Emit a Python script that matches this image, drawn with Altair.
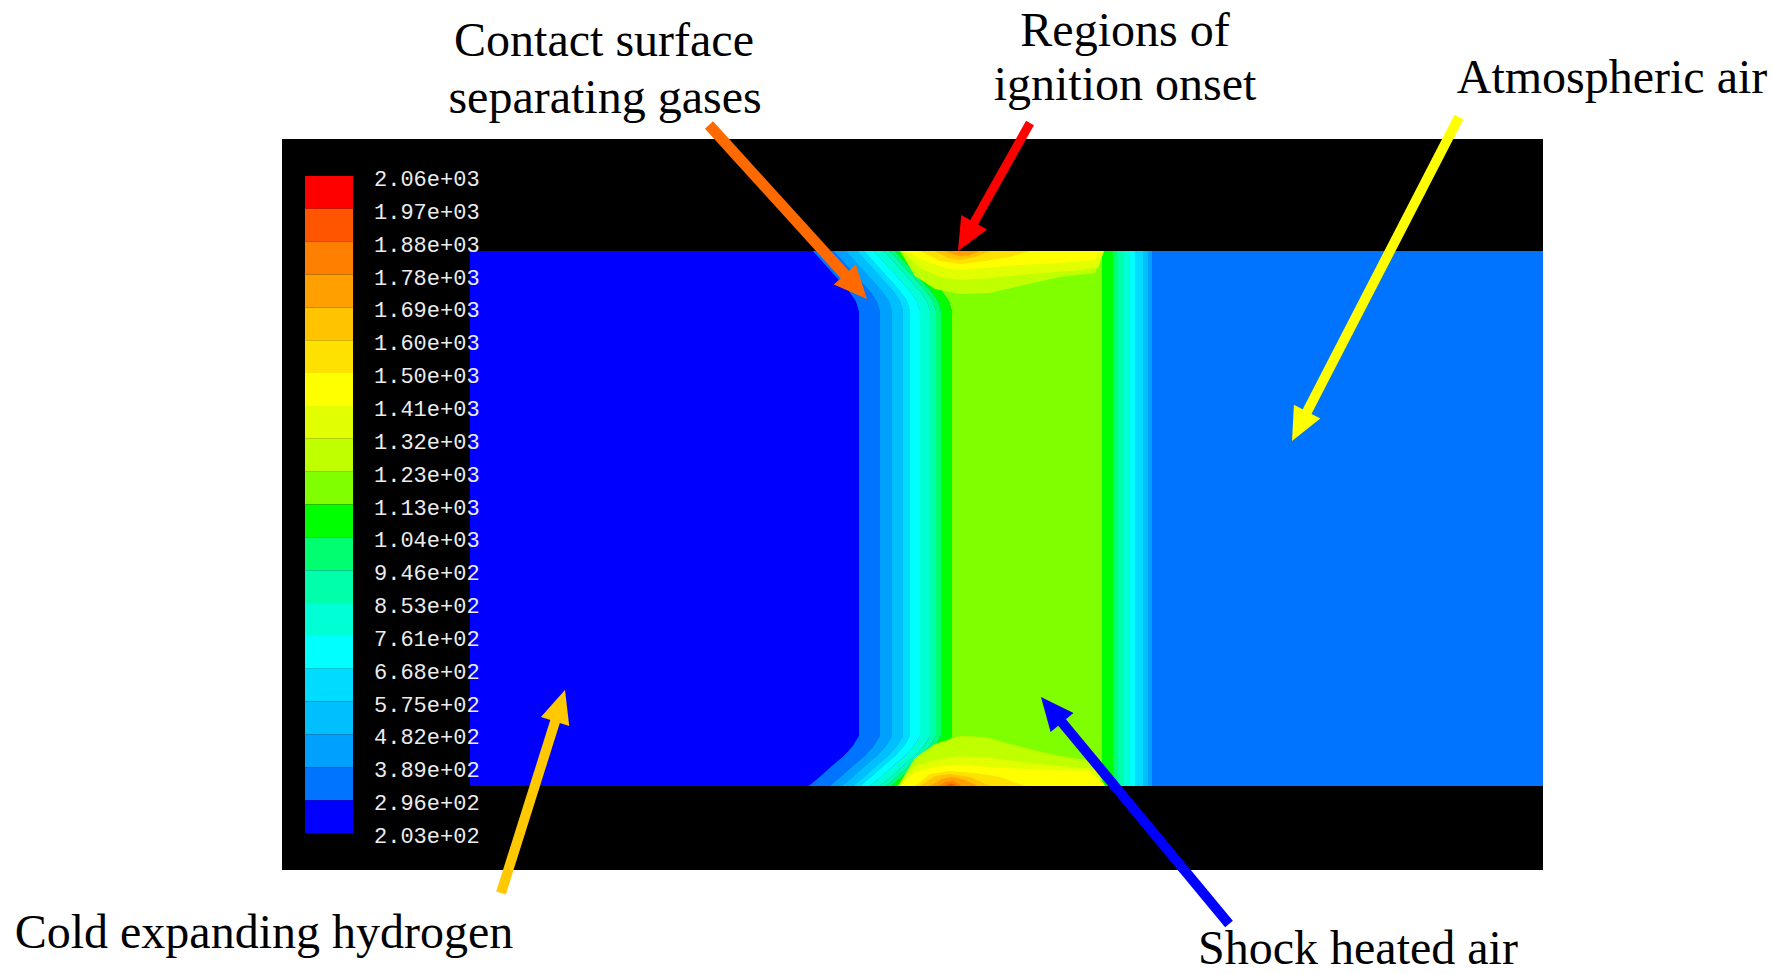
import math
import altair as alt
import pandas as pd

# ---------------- canvas (reference pixel space, page margin 8) ----------------
W, H = 1768, 958
OX, OY = 8, 8

FRAME_X = [282, 1543]
FRAME_Y = [139, 870]
CHANNEL_X = [470, 1543]
CHANNEL_Y = [251, 786]

BAND_COLORS = ["#ff0000", "#ff5500", "#ff8000", "#ffa000", "#ffc300",
               "#ffe100", "#ffff00", "#e1ff00", "#c0ff00", "#80ff00",
               "#00ff00", "#00ff70", "#00ffaa", "#00ffd5", "#00ffff",
               "#00dcff", "#00bfff", "#00a0ff", "#0073ff", "#0000ff"]

LEVEL_LABELS = ["2.06e+03", "1.97e+03", "1.88e+03", "1.78e+03", "1.69e+03",
                "1.60e+03", "1.50e+03", "1.41e+03", "1.32e+03", "1.23e+03",
                "1.13e+03", "1.04e+03", "9.46e+02", "8.53e+02", "7.61e+02",
                "6.68e+02", "5.75e+02", "4.82e+02", "3.89e+02", "2.96e+02",
                "2.03e+02"]

CB_X = [305, 353]
CB_Y = [176, 833]
CB_LABEL_X = 374

LEFT_BOUNDS = [859, 880, 892, 903, 910, 920, 930, 936, 941, 952]
LEFT_BANDS = [19, 18, 17, 16, 15, 14, 13, 12, 11, 10, 9]
BEND_Y = [251, 261, 271, 281, 291, 301, 311, 736, 746, 756, 766, 776, 786]
BEND_DX = [-46, -37, -28, -19, -10, -3, 0, 0, -6, -15, -27, -38, -50]
RIGHT_BOUNDS = [1102, 1113, 1118, 1124, 1130, 1135, 1143, 1148, 1152]
RIGHT_BANDS = [10, 11, 12, 13, 14, 15, 16, 17]
AIR_BAND = 18

TOP_DOMES = {
    8: ([900, 915, 935, 960, 990, 1020, 1060, 1095, 1104], [0, 25, 38, 43, 42, 35, 26, 22, 0]),
    7: ([902, 920, 940, 960, 990, 1030, 1070, 1098, 1104], [0, 17, 26, 29, 27, 23, 20, 17, 0]),
    6: ([905, 925, 945, 960, 985, 1020, 1060, 1095, 1103], [0, 10, 17, 19, 17, 14, 12, 9, 0]),
    5: ([920, 940, 960, 985, 1010, 1030], [0, 10, 13, 10, 6, 0]),
    4: ([935, 948, 960, 975, 990], [0, 7, 9, 6, 0]),
    3: ([945, 955, 962, 970, 980], [0, 4, 5, 4, 0]),
}
BOTTOM_DOMES = {
    8: ([898, 915, 935, 960, 985, 1010, 1050, 1090, 1105], [0, 28, 42, 50, 49, 42, 32, 25, 0]),
    7: ([898, 915, 935, 960, 990, 1020, 1060, 1095, 1105], [0, 20, 26, 30, 28, 24, 20, 17, 0]),
    6: ([900, 915, 940, 965, 1000, 1050, 1090, 1105], [0, 14, 20, 21, 18, 16, 15, 0]),
    5: ([915, 930, 950, 975, 1000, 1025], [0, 12, 15, 13, 9, 0]),
    4: ([920, 935, 950, 970, 990], [0, 10, 12, 9, 0]),
    3: ([930, 942, 952, 965, 978], [0, 7, 9, 6, 0]),
    2: ([938, 946, 953, 962], [0, 4, 5, 0]),
    1: ([945, 951, 957], [0, 2.5, 0]),
}

ARROW_FROM_X = [709, 1030, 1459, 501, 1229]
ARROW_FROM_Y = [125, 123, 117, 893, 924]
ARROW_TIP_X = [867, 958, 1292, 565, 1041]
ARROW_TIP_Y = [299, 251, 441, 690, 697]
ARROW_COLORS = ["#ff6a00", "#ff0000", "#ffff00", "#ffc800", "#0000ff"]
ARROW_WIDTHS = [11, 9, 10, 10, 10]
HEAD_R = 16.5

TEXTS = ["Contact surface", "separating gases", "Regions of", "ignition onset",
         "Atmospheric air", "Cold expanding hydrogen", "Shock heated air"]
TEXT_X = [604, 605, 1125, 1125, 1612, 264, 1358]
TEXT_Y = [56, 113, 46, 100, 93, 948, 964]

# ---------------- scales ----------------
xs = alt.Scale(domain=[OX, OX + W], range=[0, W], nice=False, zero=False)
ys = alt.Scale(domain=[OY, OY + H], range=[0, H], nice=False, zero=False)


def X(f):
    return alt.X(f, scale=xs, axis=None)


def Y(f):
    return alt.Y(f, scale=ys, axis=None)


# ---------------- data tables ----------------
rects = pd.DataFrame([
    dict(x=FRAME_X[0], x2=FRAME_X[1], y=FRAME_Y[0], y2=FRAME_Y[1], col="#000000"),
    dict(x=CHANNEL_X[0], x2=CHANNEL_X[1], y=CHANNEL_Y[0], y2=CHANNEL_Y[1], col=BAND_COLORS[AIR_BAND]),
])
for k, band in enumerate(RIGHT_BANDS):
    rects.loc[len(rects)] = dict(x=RIGHT_BOUNDS[k], x2=RIGHT_BOUNDS[k + 1],
                                 y=CHANNEL_Y[0], y2=CHANNEL_Y[1], col=BAND_COLORS[band])

step = (CB_Y[1] - CB_Y[0]) / len(BAND_COLORS)
cbar = pd.DataFrame([dict(x=CB_X[0], x2=CB_X[1], y=CB_Y[0] + i * step,
                          y2=CB_Y[0] + (i + 1) * step, col=c)
                     for i, c in enumerate(BAND_COLORS)])
cb_labels = pd.DataFrame([dict(x=CB_LABEL_X, y=CB_Y[0] + i * step + 3, t=t)
                          for i, t in enumerate(LEVEL_LABELS)])

left_rows = []
for k, band in enumerate(LEFT_BANDS):
    for yv, dx in zip(BEND_Y, BEND_DX):
        xl = CHANNEL_X[0] if k == 0 else LEFT_BOUNDS[k - 1] + dx
        xr = LEFT_BOUNDS[k] + dx if k < len(LEFT_BOUNDS) else RIGHT_BOUNDS[0]
        left_rows.append(dict(region=f"L{k}", yy=yv, xa=xl, xb=xr, col=BAND_COLORS[band]))
left = pd.DataFrame(left_rows)

dome_rows = []
for band, (xv, dv) in TOP_DOMES.items():
    for a, d in zip(xv, dv):
        dome_rows.append(dict(band=band, region=f"T{band}", xx=a, ya=CHANNEL_Y[0],
                              yb=CHANNEL_Y[0] + d, col=BAND_COLORS[band]))
for band, (xv, dv) in BOTTOM_DOMES.items():
    for a, d in zip(xv, dv):
        dome_rows.append(dict(band=band, region=f"B{band}", xx=a, ya=CHANNEL_Y[1] - d,
                              yb=CHANNEL_Y[1], col=BAND_COLORS[band]))
domes = pd.DataFrame(dome_rows)

arrow_rows = []
for fx, fy, tx, ty, c, w in zip(ARROW_FROM_X, ARROW_FROM_Y, ARROW_TIP_X, ARROW_TIP_Y,
                                ARROW_COLORS, ARROW_WIDTHS):
    dx, dy = tx - fx, ty - fy
    L = math.hypot(dx, dy)
    ux, uy = dx / L, dy / L
    cx, cy = tx - HEAD_R * ux, ty - HEAD_R * uy
    ang = math.degrees(math.atan2(dx, -dy)) % 360
    arrow_rows.append(dict(x=fx, y=fy, x2=cx, y2=cy, hx=cx, hy=cy, ang=ang, col=c, w=w))
arrows = pd.DataFrame(arrow_rows)

texts = pd.DataFrame(dict(x=TEXT_X, y=TEXT_Y, t=TEXTS))

# ---------------- layers ----------------
col = alt.Color("col:N", scale=None)

rect_layer = alt.Chart(rects).mark_rect().encode(
    x=X("x:Q"), x2="x2:Q", y=Y("y:Q"), y2="y2:Q", color=col)

left_layer = alt.Chart(left).mark_area(orient="horizontal").encode(
    y=Y("yy:Q"), x=X("xa:Q"), x2="xb:Q", color=col, detail="region:N")

dome_layers = []
for band in sorted(domes["band"].unique(), reverse=True):
    sub = domes[domes["band"] == band].reset_index(drop=True)
    dome_layers.append(alt.Chart(sub).mark_area(orient="vertical").encode(
        x=X("xx:Q"), y=Y("ya:Q"), y2="yb:Q", color=col, detail="region:N"))

cbar_layer = alt.Chart(cbar).mark_rect().encode(
    x=X("x:Q"), x2="x2:Q", y=Y("y:Q"), y2="y2:Q", color=col)
cbar_text = alt.Chart(cb_labels).mark_text(
    font="Liberation Mono", fontSize=22, align="left", baseline="middle",
    color="#ececec").encode(x=X("x:Q"), y=Y("y:Q"), text="t:N")

arrow_lines = alt.Chart(arrows).mark_rule().encode(
    x=X("x:Q"), y=Y("y:Q"), x2="x2:Q", y2="y2:Q", color=col,
    strokeWidth=alt.StrokeWidth("w:Q", scale=None))
arrow_heads = alt.Chart(arrows).mark_point(
    shape="M0,-1L-0.9,1L0.9,1Z", filled=True, opacity=1, size=(2 * HEAD_R) ** 2, strokeWidth=0
).encode(x=X("hx:Q"), y=Y("hy:Q"), angle=alt.Angle("ang:Q", scale=None), color=col)

text_layer = alt.Chart(texts).mark_text(
    font="Liberation Serif", fontSize=48, align="center", baseline="alphabetic",
    color="#000000").encode(x=X("x:Q"), y=Y("y:Q"), text="t:N")

chart = alt.layer(rect_layer, left_layer, *dome_layers, cbar_layer, cbar_text,
                  arrow_lines, arrow_heads, text_layer).properties(
    width=W, height=H, padding=0, autosize=alt.AutoSizeParams(type="none"),
    background="#ffffff"
).configure_view(stroke=None)

chart.save("out.html", embed_options={"renderer": "svg", "actions": False})
